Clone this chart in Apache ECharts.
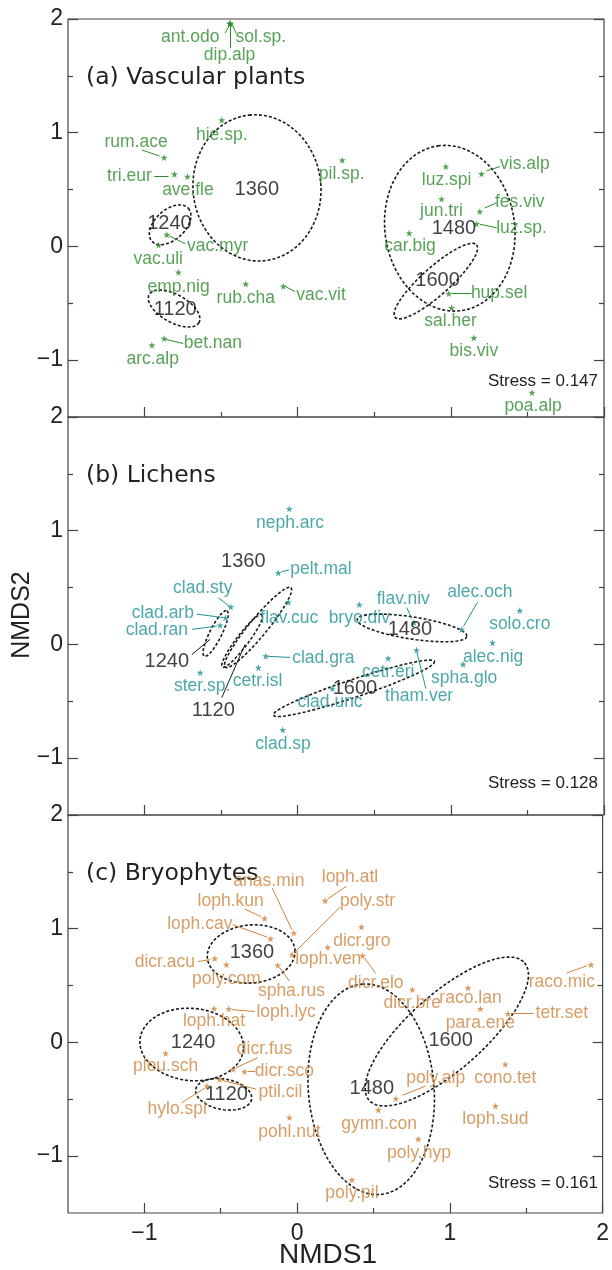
<!DOCTYPE html>
<html><head><meta charset="utf-8">
<script src="https://cdn.jsdelivr.net/npm/echarts@6/dist/echarts.min.js"></script>
<style>html,body{margin:0;padding:0;background:#fff}#c{width:612px;height:1270px}</style>
</head><body><div id="c"></div>
<script>
// ---------------- data ----------------
const majorTicks = [-1, 0, 1, 2];
const minorTicks = [-0.5, 0.5, 1.5];
const groupNames = ['1360', '1240', '1120', '1480', '1600'];
const stressValues = ['0.147', '0.128', '0.161'];
const panelTitles = ['(a) Vascular plants', '(b) Lichens', '(c) Bryophytes'];

// (a) Vascular plants
const vascSpecies = ['ant.odo','sol.sp.','dip.alp','hie.sp.','rum.ace','tri.eur','ave.fle','pil.sp.','luz.spi','vis.alp','jun.tri','fes.viv','luz.sp.','car.big','hup.sel','sal.her','bis.viv','poa.alp','vac.myr','vac.uli','emp.nig','rub.cha','vac.vit','bet.nan','arc.alp'];
const vascX = [-0.442,-0.442,-0.442,-0.496,-0.872,-0.805,-0.720,0.291,0.967,1.200,0.939,1.189,1.168,0.728,0.987,1.005,1.150,1.530,-0.855,-0.909,-0.779,-0.339,-0.094,-0.872,-0.952];
const vascY = [1.960,1.960,1.960,1.111,0.781,0.635,0.614,0.758,0.702,0.638,0.416,0.307,0.199,0.118,-0.415,-0.540,-0.804,-1.286,0.103,0.012,-0.228,-0.330,-0.351,-0.810,-0.868];
const vascLabelX = [-0.702,-0.241,-0.445,-0.496,-1.055,-1.099,-0.717,0.287,0.972,1.483,0.939,1.450,1.461,0.733,1.315,0.998,1.150,1.537,-0.523,-0.911,-0.778,-0.339,0.152,-0.554,-0.947];
const vascLabelY = [1.837,1.837,1.682,0.979,0.921,0.620,0.491,0.638,0.585,0.723,0.307,0.392,0.161,0.0,-0.409,-0.658,-0.921,-1.404,0.0,-0.111,-0.356,-0.453,-0.430,-0.854,-0.994];
const vascLeaders = [[-0.442,1.955,-0.474,1.876],[-0.429,1.955,-0.403,1.876],[-0.442,1.937,-0.442,1.744],[-1.018,0.848,-0.903,0.796],[-0.937,0.620,-0.844,0.620],[1.233,0.664,1.320,0.702],[1.222,0.339,1.298,0.383],[1.189,0.195,1.300,0.164],[1.007,-0.411,1.135,-0.411],[-0.840,0.094,-0.735,0.024],[-0.083,-0.351,-0.018,-0.397],[-0.859,-0.818,-0.748,-0.854]];
const vascGroupX = [-0.267,-0.838,-0.800,1.020,0.913];
const vascGroupY = [0.504,0.199,-0.555,0.161,-0.301];
const vascGroupLeaders = [];
// ellipse: centre x, centre y, semi-axis u (x,y), semi-axis v (x,y) in NMDS units
const vascEllipses = [[-0.266,0.515,-0.052,0.640,0.415,0.061],[-0.833,0.190,0.119,0.146,0.066,-0.097],[-0.807,-0.546,0.163,-0.123,-0.044,-0.107],[0.993,0.160,-0.078,0.724,0.419,0.082],[0.902,-0.305,0.266,0.320,0.061,-0.091]];

// (b) Lichens
const lichSpecies = ['neph.arc','pelt.mal','clad.sty','clad.arb','clad.ran','flav.cuc','bryo.div','flav.niv','alec.och','solo.cro','alec.nig','spha.glo','tham.ver','cetr.eri','clad.unc','clad.gra','cetr.isl','ster.sp.','clad.sp'];
const lichX = [-0.055,-0.127,-0.437,-0.472,-0.507,-0.061,0.402,0.759,1.070,1.450,1.272,1.080,0.776,0.591,0.226,-0.209,-0.257,-0.637,-0.098];
const lichY = [1.193,0.629,0.331,0.234,0.167,0.371,0.351,0.193,0.132,0.298,0.015,-0.175,-0.050,-0.123,-0.389,-0.103,-0.204,-0.248,-0.752];
const lichLabelX = [-0.050,0.152,-0.620,-0.881,-0.920,-0.055,0.402,0.689,1.189,1.450,1.276,1.087,0.793,0.591,0.211,0.167,-0.262,-0.624,-0.096];
const lichLabelY = [1.068,0.664,0.497,0.272,0.125,0.234,0.234,0.395,0.459,0.175,-0.108,-0.301,-0.459,-0.243,-0.506,-0.125,-0.322,-0.366,-0.877];
const lichLeaders = [[-0.106,0.640,-0.057,0.654],[-0.518,0.410,-0.446,0.336],[-0.659,0.266,-0.489,0.237],[-0.691,0.132,-0.528,0.161],[0.711,0.325,0.746,0.228],[1.174,0.371,1.082,0.158],[0.778,-0.070,0.837,-0.389],[-0.194,-0.105,-0.050,-0.114]];
const lichGroupX = [-0.355,-0.855,-0.551,0.733,0.374];
const lichGroupY = [0.731,-0.146,-0.585,0.132,-0.389];
const lichGroupLeaders = [[-0.691,-0.088,-0.572,0.044],[-0.496,-0.468,-0.344,0.0]];
const lichEllipses = [[-0.259,0.149,0.215,0.351,0.045,-0.050],[-0.536,0.096,0.075,0.202,0.035,-0.024],[-0.363,0.031,0.130,0.232,0.031,-0.032],[0.746,0.145,0.359,-0.075,-0.011,-0.096],[0.367,-0.386,0.528,0.237,0.018,-0.075]];

// (c) Bryophytes
const bryoSpecies = ['anas.min','loph.kun','loph.cav','dicr.acu','poly.com','spha.rus','poly.str','loph.ven','loph.atl','dicr.gro','dicr.elo','dicr.bre','raco.lan','para.ene','tetr.set','raco.mic','loph.lyc','loph.hat','pleu.sch','dicr.fus','dicr.sco','ptil.cil','hylo.spl','pohl.nut','cono.tet','poly.alp','gymn.con','loph.sud','poly.hyp','poly.pil'];
const bryoX = [-0.022,-0.213,-0.174,-0.539,-0.463,-0.127,-0.033,0.200,0.183,0.421,0.428,0.754,1.119,1.200,1.380,1.924,-0.448,-0.544,-0.861,-0.420,-0.344,-0.507,-0.590,-0.050,1.363,0.646,0.532,1.298,0.793,0.359];
const bryoY = [0.962,1.090,0.912,0.737,0.684,0.678,0.772,0.836,1.246,1.015,0.763,0.465,0.480,0.296,0.252,0.684,0.296,0.298,-0.096,-0.237,-0.257,-0.325,-0.383,-0.661,-0.193,-0.494,-0.594,-0.559,-0.851,-1.208];
const bryoLabelX = [-0.185,-0.435,-0.637,-0.866,-0.463,-0.037,0.461,0.204,0.346,0.424,0.515,0.754,1.135,1.200,1.733,1.733,-0.072,-0.544,-0.861,-0.213,-0.083,-0.109,-0.785,-0.050,1.363,0.907,0.537,1.298,0.798,0.359];
const bryoLabelY = [1.421,1.246,1.044,0.704,0.559,0.450,1.239,0.728,1.454,0.889,0.524,0.348,0.392,0.173,0.261,0.532,0.266,0.187,-0.213,-0.055,-0.257,-0.441,-0.588,-0.787,-0.310,-0.310,-0.719,-0.675,-0.976,-1.325];
const bryoLeaders = [[-0.163,1.357,-0.034,0.991],[-0.344,1.173,-0.233,1.105],[-0.420,1.035,-0.194,0.925],[-0.648,0.711,-0.568,0.728],[-0.115,0.658,-0.050,0.538],[0.281,1.189,-0.018,0.789],[0.320,1.371,0.198,1.259],[0.439,0.746,0.515,0.606],[1.398,0.254,1.548,0.254],[1.765,0.611,1.900,0.675],[-0.429,0.289,-0.279,0.272],[-0.257,-0.134,-0.402,-0.224],[-0.321,-0.257,-0.275,-0.257],[-0.491,-0.333,-0.267,-0.412],[-0.757,-0.532,-0.605,-0.402],[0.689,-0.465,0.842,-0.383]];
const bryoGroupX = [-0.296,-0.681,-0.463,0.489,1.005];
const bryoGroupY = [0.787,0.0,-0.456,-0.406,0.020];
const bryoGroupLeaders = [];
const bryoEllipses = [[-0.301,0.778,0.287,0.035,0.017,-0.254],[-0.690,-0.018,0.339,-0.044,-0.023,-0.316],[-0.481,-0.456,0.183,-0.044,-0.018,-0.132],[0.485,-0.412,-0.059,0.925,0.410,0.047],[0.980,0.096,0.509,0.605,0.164,-0.250]];

// ---------------- chart ----------------
const panels = [
  {sp: vascSpecies, x: vascX, y: vascY, lx: vascLabelX, ly: vascLabelY, lead: vascLeaders, gx: vascGroupX, gy: vascGroupY, glead: vascGroupLeaders, ell: vascEllipses, color: '#2e8b2e'},
  {sp: lichSpecies, x: lichX, y: lichY, lx: lichLabelX, ly: lichLabelY, lead: lichLeaders, gx: lichGroupX, gy: lichGroupY, glead: lichGroupLeaders, ell: lichEllipses, color: '#1f9292'},
  {sp: bryoSpecies, x: bryoX, y: bryoY, lx: bryoLabelX, ly: bryoLabelY, lead: bryoLeaders, gx: bryoGroupX, gy: bryoGroupY, glead: bryoGroupLeaders, ell: bryoEllipses, color: '#cd853f'}
];
const gridTops = [19, 417, 815];
const gridH = 398;
const FONT = 'Liberation Sans, Arial, sans-serif';
const AX = '#444';
const fmt = v => (v < 0 ? '\u2212' + Math.abs(v) : String(v));
const STAR = 'path://M0,-10L2.35,-3.24L9.51,-3.09L3.8,1.24L5.88,8.09L0,4L-5.88,8.09L-3.8,1.24L-9.51,-3.09L-2.35,-3.24Z';

const grid = [], xAxis = [], yAxis = [], series = [], graphic = [];

function tickAxis(kind, gi, ticks, len, showLabel, pos) {
  return {
    type: 'value', gridIndex: gi, min: -1.5, max: 2, position: pos,
    axisLine: {show: false, onZero: false}, splitLine: {show: false},
    axisTick: {show: true, inside: true, length: len, customValues: ticks, lineStyle: {color: AX, width: 1.2}},
    axisLabel: {show: showLabel, customValues: ticks, fontSize: 23, color: '#222', fontFamily: FONT, formatter: fmt, margin: kind === 'x' ? 9 : 5}
  };
}

panels.forEach((p, i) => {
  grid.push({left: 68, right: 8, top: gridTops[i], height: gridH, show: true, borderColor: AX, borderWidth: 1.2, backgroundColor: 'transparent'});
  xAxis.push(tickAxis('x', i, majorTicks, 10, i === 2, 'bottom'));
  xAxis.push(tickAxis('x', i, minorTicks, 5, false, 'bottom'));
  yAxis.push(tickAxis('y', i, majorTicks, 10, true, 'left'));
  yAxis.push(tickAxis('y', i, minorTicks, 5, false, 'left'));
  yAxis.push(tickAxis('y', i, majorTicks, 10, false, 'right'));
  yAxis.push(tickAxis('y', i, minorTicks, 5, false, 'right'));
  const xi = 2 * i, yi = 4 * i;

  // ellipses
  p.ell.forEach(e => {
    const pts = [];
    const N = 120;
    for (let j = 0; j <= N; j++) {
      const t = 2 * Math.PI * j / N;
      pts.push([e[0] + e[2] * Math.cos(t) + e[4] * Math.sin(t), e[1] + e[3] * Math.cos(t) + e[5] * Math.sin(t)]);
    }
    series.push({type: 'line', xAxisIndex: xi, yAxisIndex: yi, data: pts, showSymbol: false, symbol: 'none', silent: true, z: 3,
      lineStyle: {color: '#1a1a1a', width: 1.6, type: [3, 2]}});
  });

  // leader lines (species)
  series.push({type: 'lines', coordinateSystem: 'cartesian2d', xAxisIndex: xi, yAxisIndex: yi, silent: true, z: 4,
    data: p.lead.map(s => ({coords: [[s[0], s[1]], [s[2], s[3]]]})),
    lineStyle: {color: p.color, width: 1, opacity: 1, curveness: 0}});
  if (p.glead.length) {
    series.push({type: 'lines', coordinateSystem: 'cartesian2d', xAxisIndex: xi, yAxisIndex: yi, silent: true, z: 4,
      data: p.glead.map(s => ({coords: [[s[0], s[1]], [s[2], s[3]]]})),
      lineStyle: {color: '#1a1a1a', width: 1, opacity: 1, curveness: 0}});
  }

  // stars
  series.push({type: 'scatter', xAxisIndex: xi, yAxisIndex: yi, silent: true, z: 5, symbol: STAR, symbolSize: 7,
    itemStyle: {color: p.color}, data: p.x.map((v, k) => [v, p.y[k]])});

  // species labels
  series.push({type: 'scatter', xAxisIndex: xi, yAxisIndex: yi, silent: true, z: 6, symbolSize: 0,
    itemStyle: {color: 'rgba(0,0,0,0)'},
    data: p.lx.map((v, k) => [v, p.ly[k], p.sp[k]]),
    label: {show: true, position: 'inside', formatter: q => q.data[2], color: p.color, fontSize: 17.5, fontFamily: FONT}});

  // group labels
  series.push({type: 'scatter', xAxisIndex: xi, yAxisIndex: yi, silent: true, z: 6, symbolSize: 0,
    itemStyle: {color: 'rgba(0,0,0,0)'},
    data: p.gx.map((v, k) => [v, p.gy[k], groupNames[k]]),
    label: {show: true, position: 'inside', formatter: q => q.data[2], color: '#111', fontSize: 20, fontFamily: FONT}});

  // panel title and stress
  graphic.push({type: 'text', x: 86, y: gridTops[i] + 59, style: {text: panelTitles[i], font: '23.5px "DejaVu Sans"', fill: '#222', textAlign: 'left', textVerticalAlign: 'middle'}});
  graphic.push({type: 'text', x: 598, y: gridTops[i] + [362, 366, 368][i], style: {text: 'Stress = ' + stressValues[i], font: '17px "Liberation Sans"', fill: '#222', textAlign: 'right', textVerticalAlign: 'middle'}});
});

graphic.push({type: 'text', x: 328, y: 1255, style: {text: 'NMDS1', font: '28px "Liberation Sans"', fill: '#222', textAlign: 'center', textVerticalAlign: 'middle'}});
graphic.push({type: 'text', x: 22, y: 615, rotation: Math.PI / 2, style: {text: 'NMDS2', font: '25px "Liberation Sans"', fill: '#222', textAlign: 'center', textVerticalAlign: 'middle'}});

const chart = echarts.init(document.getElementById('c'), null, {renderer: 'canvas'});
chart.setOption({animation: false, backgroundColor: '#fff', grid, xAxis, yAxis, series, graphic});
</script></body></html>
